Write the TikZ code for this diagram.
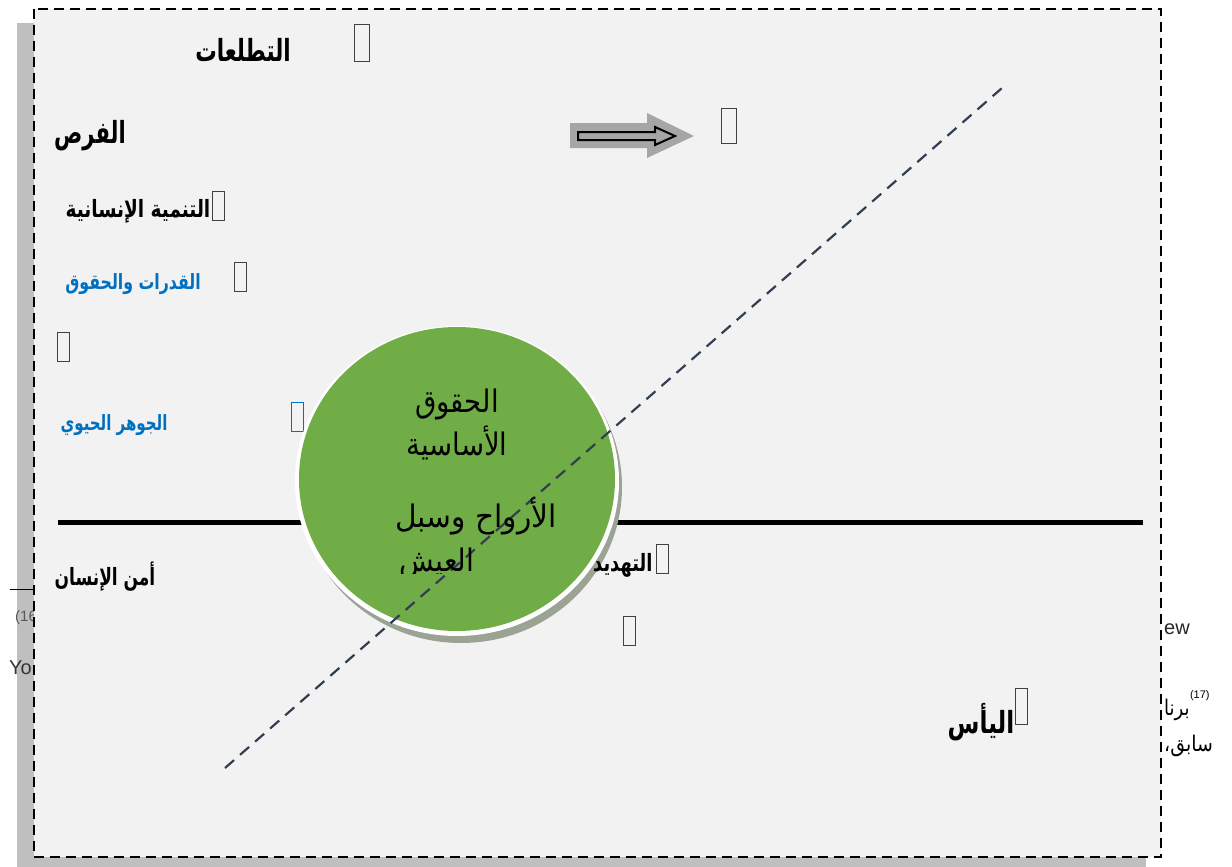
\documentclass[tikz,border=0pt]{standalone}
\usepackage{fontspec}
\usepackage{graphicx}
\usetikzlibrary{shapes.geometric}
\TeXXeTstate=1
\newfontfamily\ar[Script=Arabic]{DejaVu Sans}
\newfontfamily\lat{Liberation Sans}
\newcommand{\artx}[3]{\scalebox{#1}[#2]{#3}}
\definecolor{boxfill}{HTML}{F2F2F2}
\definecolor{shadowgray}{HTML}{BFBFBF}
\definecolor{circgreen}{HTML}{70AD47}
\definecolor{ringshadow}{HTML}{9AA394}
\definecolor{linenavy}{HTML}{333F50}
\definecolor{labelblue}{HTML}{0070C0}
\definecolor{arrowgray}{HTML}{A6A6A6}
\definecolor{outgray}{HTML}{595959}
\begin{document}
\begin{tikzpicture}[x=1pt,y=-1pt,
  lbl/.style={inner sep=0pt, text=black, font=\ar\bfseries\fontsize{17}{20}\selectfont},
  biglbl/.style={lbl, font=\ar\bfseries\fontsize{21}{24}\selectfont},
  bluelbl/.style={lbl, text=labelblue, font=\ar\bfseries\fontsize{15}{18}\selectfont},
  circtext/.style={inner sep=0pt, text=black, font=\ar\fontsize{27}{30}\selectfont},
  tofu/.style={draw=black!75, line width=0.7pt, minimum width=12pt, minimum height=29pt, inner sep=0pt},
  outtext/.style={inner sep=0pt, text=outgray, font=\lat\fontsize{15}{18}\selectfont},
  frame/.style={draw=black, line width=2.8pt, dash pattern=on 10pt off 6pt},
  axis/.style={draw=black, line width=5pt},
  diag/.style={draw=linenavy, line width=2.2pt, dash pattern=on 12pt off 8pt}]
\useasboundingbox (0,0) rectangle (1232,867);
\fill[white] (0,0) rectangle (1232,867);

% shadow of the box
\fill[shadowgray] (17,23) rectangle (1146,867);

% clipped fragments of surrounding page text
\begin{scope}
  \clip (0,560) rectangle (34,760);
  \node[outtext, anchor=west] (t16) at (15,618) {(16};
  \node[outtext, anchor=west, text=black!80, font=\lat\fontsize{20}{22}\selectfont] (tyo) at (9,668) {Yo};
\end{scope}
\coordinate (rulea) at (10,589);
\coordinate (ruleb) at (34,589);
\draw[black, line width=1pt] (rulea) -- (ruleb);

% framed box fill
\path[fill=boxfill] (34,9) rectangle (1161,857);

% right side fragments
\node[outtext, anchor=west, text=black!85, font=\lat\fontsize{20}{22}\selectfont] (tew) at (1164,629) {ew};
\node[inner sep=0pt, anchor=west, font=\ar\fontsize{18}{20}\selectfont] (tbarna) at (1164,710) {\artx{1}{1.2}{\beginR برنا\endR}};
\node[inner sep=0pt, anchor=south west, font=\lat\fontsize{11}{12}\selectfont] (t17) at ([yshift=-2pt]tbarna.north east) {(17)};
\node[inner sep=0pt, anchor=west, font=\ar\fontsize{18}{20}\selectfont] (tsabiq) at (1164,746) {\artx{1.05}{1.2}{\beginR سابق،\endR}};

% horizontal axis
\coordinate (axl) at (58,522);
\coordinate (axr) at (1143,522);
\draw[axis] (axl) -- (axr);

% labels
\node[biglbl] (tatallu) at (243,50) {\artx{1.02}{1.45}{\beginR التطلعات\endR}};
\node[biglbl] (furas) at (90,136) {\artx{1}{1.45}{\beginR الفرص\endR}};
\node[lbl] (tanmiya) at (138,211) {\artx{1.09}{1.4}{\beginR التنمية الإنسانية\endR}};
\node[bluelbl] (qudurat) at (133,284) {\artx{1.05}{1.4}{\beginR القدرات والحقوق\endR}};
\node[bluelbl] (jawhar) at (114,425) {\artx{1.0}{1.4}{\beginR الجوهر الحيوي\endR}};
\node[lbl] (amn) at (105,577) {\artx{1}{1.4}{\beginR أمن الإنسان\endR}};
\node[biglbl] (yaas) at (981,722) {\artx{1.1}{1.45}{\beginR اليأس\endR}};

% empty glyph boxes
\node[tofu, minimum width=15pt, minimum height=37pt] (b1) at (362,43) {};
\node[tofu, minimum width=15pt, minimum height=35pt] (b2) at (729,126) {};
\node[tofu] (b3) at (218,206) {};
\node[tofu] (b4) at (240,277) {};
\node[tofu] (b5) at (63,347) {};
\node[tofu, draw=labelblue] (b6) at (297,417) {};
\node[tofu] (b7) at (662,559) {};
\node[tofu] (b8) at (629,631) {};
\node[tofu, minimum height=36pt] (b9) at (1021,706) {};

% arrow
\fill[arrowgray] (570,123) -- (647,123) -- (647,113) -- (694,136) -- (647,158) -- (647,148) -- (570,148) -- cycle;
\draw[black, line width=2pt, fill=arrowgray] (578,132) -- (655,132) -- (655,127) -- (675,136) -- (655,145) -- (655,140) -- (578,140) -- cycle;

% circle with ring and shadow
\fill[ringshadow] (461,487) ellipse [x radius=161, y radius=156];
\fill[white] (457,481) ellipse [x radius=162, y radius=155];
\node[ellipse, fill=circgreen, minimum width=316pt, minimum height=304pt, inner sep=0pt] (core) at (457,479) {};

\node[lbl, anchor=west] (tahdid) at (593,565) {\artx{1.05}{1.4}{\beginR التهديد\endR}};

% diagonal dashed line
\coordinate (dga) at (225,768);
\coordinate (dgb) at (1002,88);
\draw[diag] (dga) -- (dgb);

% circle text
\node[circtext] (c1) at (457,404) {\artx{1.02}{1.15}{\beginR الحقوق\endR}};
\node[circtext] (c2) at (457,443) {\artx{1.02}{1.15}{\beginR الأساسية\endR}};
\node[circtext] (c3) at (476,516) {\artx{1.1}{1.15}{\beginR الأرواح وسبل\endR}};
\begin{scope}
  \clip (380,540) rectangle (520,573);
  \node[circtext] (c4) at (437,563) {\artx{1.05}{1.15}{\beginR العيش\endR}};
\end{scope}

% frame on top
\draw[frame] (34,9) rectangle (1161,857);
\end{tikzpicture}
\end{document}
